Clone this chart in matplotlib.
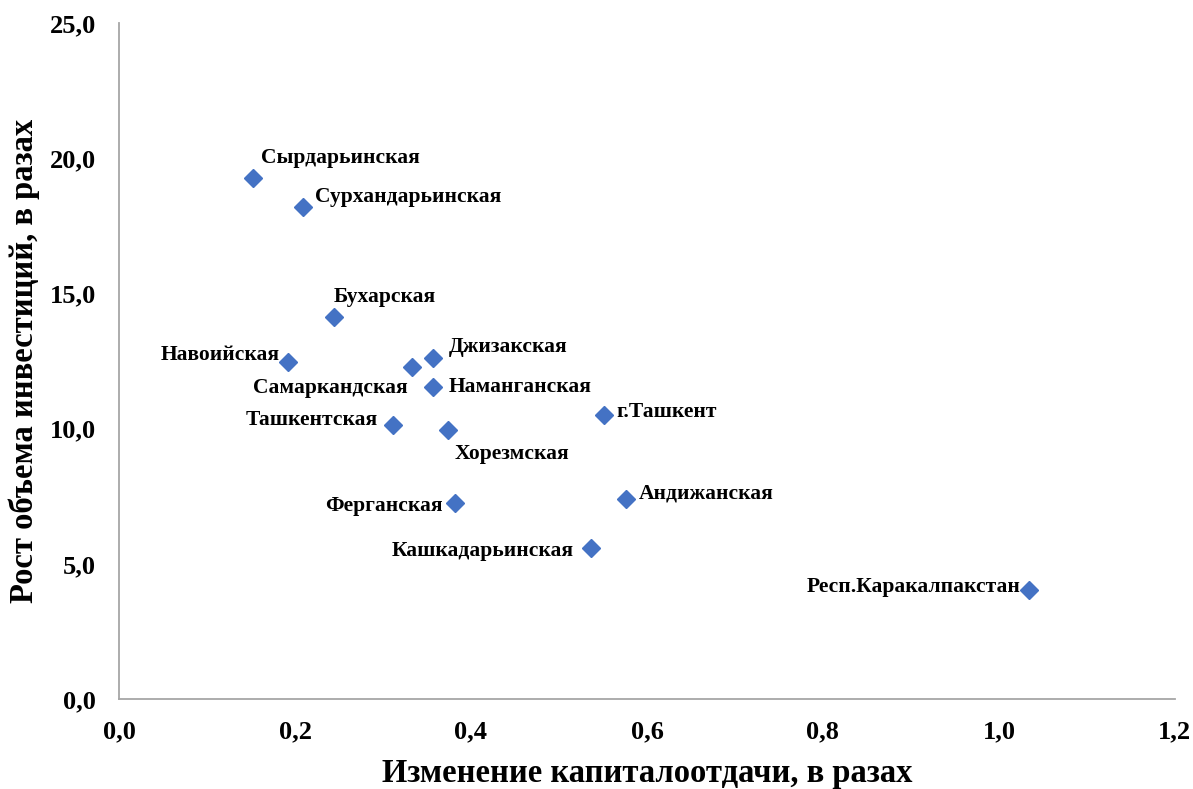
import matplotlib
matplotlib.use("Agg")
import matplotlib.pyplot as plt
from matplotlib.ticker import FuncFormatter

plt.rcParams['font.family'] = ['Liberation Serif', 'DejaVu Serif']
plt.rcParams['font.weight'] = 'bold'

# regions and their values
regions = ["Сырдарьинская", "Сурхандарьинская", "Бухарская", "Навоийская",
           "Самаркандская", "Джизакская", "Наманганская", "Ташкентская",
           "Хорезмская", "г.Ташкент", "Андижанская", "Ферганская",
           "Кашкадарьинская", "Респ.Каракалпакстан"]
capital_change = [0.152, 0.209, 0.244, 0.192, 0.333, 0.357, 0.357, 0.311,
                  0.374, 0.551, 0.576, 0.382, 0.536, 1.034]
invest_growth = [19.27, 18.2, 14.13, 12.46, 12.28, 12.61, 11.54, 10.13,
                 9.95, 10.5, 7.40, 7.25, 5.58, 4.03]

# label offsets in points (dx, dy, horizontal alignment)
offsets = [(6, 14, 'left'), (9, 7, 'left'), (0, 14, 'left'), (-6, 5, 'right'),
           (-3, -15, 'right'), (11, 8, 'left'), (11, 0, 'left'), (-11, 4, 'right'),
           (5, -17, 'left'), (9, 2, 'left'), (9, 4, 'left'), (-9, -2, 'right'),
           (-12, -2, 'right'), (-6, 2, 'right')]

fig = plt.figure(figsize=(11.93, 7.89), dpi=100)
ax = fig.add_axes([0.0998, 0.114, 0.885, 0.857])

ax.plot(capital_change, invest_growth, linestyle='none', marker='D',
        markersize=9, color='#4472C4')

for name, x, y, (dx, dy, ha) in zip(regions, capital_change, invest_growth, offsets):
    ax.annotate(name, (x, y), xytext=(dx, dy), textcoords='offset points',
                ha=ha, va='center', fontsize=15.5, fontweight='bold')

ax.set_xlim(0, 1.2)
ax.set_ylim(0, 25)
ax.set_xticks([0, 0.2, 0.4, 0.6, 0.8, 1.0, 1.2])
ax.set_yticks([0, 5, 10, 15, 20, 25])
comma = FuncFormatter(lambda v, p: f"{v:.1f}".replace('.', ','))
ax.xaxis.set_major_formatter(comma)
ax.yaxis.set_major_formatter(comma)
ax.tick_params(length=0, labelsize=19)
ax.tick_params(axis='x', pad=15)
ax.tick_params(axis='y', pad=16.5)

for s in ['top', 'right']:
    ax.spines[s].set_visible(False)
for s in ['left', 'bottom']:
    ax.spines[s].set_color('#A6A6A6')
    ax.spines[s].set_linewidth(1.3)

ax.set_xlabel("Изменение капиталоотдачи, в разах", fontsize=23.5, fontweight='bold', labelpad=11)
ax.set_ylabel("Рост объема инвестиций, в разах", fontsize=23.5, fontweight='bold', labelpad=7)

fig.savefig("out.png", dpi=100)
